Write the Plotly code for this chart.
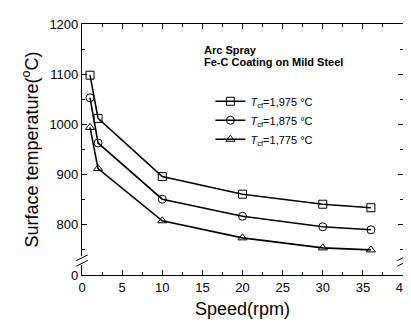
import plotly.graph_objects as go

speed = [1, 2, 10, 20, 30, 36]
temp_1975 = [1098, 1012, 896, 861, 841, 834]
temp_1875 = [1053, 963, 851, 817, 796, 790]
temp_1775 = [994, 912, 808, 774, 754, 750]
series_names = ["<i>T</i><sub>cf</sub>=1,975 °C", "<i>T</i><sub>cf</sub>=1,875 °C", "<i>T</i><sub>cf</sub>=1,775 °C"]
y_tickvals = [700, 800, 900, 1000, 1100, 1200]
y_ticktext = ["0", "800", "900", "1000", "1100", "1200"]

FONT = "Arial, Liberation Sans, sans-serif"
symbols = ["square-open", "circle-open", "triangle-up-open"]

fig = go.Figure()
for vals, name, sym in zip([temp_1975, temp_1875, temp_1775], series_names, symbols):
    fig.add_trace(go.Scatter(
        x=speed, y=vals, name=name, mode="lines+markers",
        line=dict(color="black", width=1.6),
        marker=dict(symbol=sym, size=8, color="black", line=dict(width=1, color="black")),
        cliponaxis=False,
    ))

axis_common = dict(
    showline=True, linecolor="black", linewidth=1.2, mirror="ticks",
    ticks="inside", ticklen=5, tickcolor="black", tickwidth=1,
    showgrid=False, zeroline=False,
    tickfont=dict(family=FONT, size=13, color="black"),
)
fig.update_xaxes(range=[0, 40], dtick=5, tick0=0,
                 minor=dict(ticks="inside", ticklen=3, dtick=2.5, tick0=0, tickcolor="black"),
                 title=dict(text="Speed(rpm)", font=dict(family=FONT, size=18, color="black"), standoff=8),
                 **axis_common)
fig.update_yaxes(range=[700, 1200], tickvals=y_tickvals, ticktext=y_ticktext,
                 minor=dict(ticks="inside", ticklen=3, tickvals=[750, 850, 950, 1050, 1150], tickcolor="black"),
                 title=dict(text="Surface temperature(<sup>o</sup>C)", font=dict(family=FONT, size=18, color="black"), standoff=6),
                 **axis_common)

# axis break marks
for xp in [0, 1]:
    fig.add_shape(type="rect", xref="paper", yref="paper", x0=xp - 0.01, x1=xp + 0.01, y0=0.04, y1=0.075,
                  fillcolor="white", line=dict(width=0), layer="above")
    for yoff in [0.0, 0.022]:
        fig.add_shape(type="line", xref="paper", yref="paper",
                      x0=xp - 0.018, x1=xp + 0.018, y0=0.035 + yoff, y1=0.058 + yoff,
                      line=dict(color="black", width=1), layer="above")

fig.add_annotation(x=0.375, y=0.898, xref="paper", yref="paper", xanchor="left", yanchor="middle",
                   text="<b>Arc Spray</b>", showarrow=False, font=dict(family=FONT, size=11, color="black"))
fig.add_annotation(x=0.375, y=0.848, xref="paper", yref="paper", xanchor="left", yanchor="middle",
                   text="<b>Fe-C Coating on Mild Steel</b>", showarrow=False, font=dict(family=FONT, size=11, color="black"))

fig.update_layout(
    width=411, height=322,
    margin=dict(l=74, r=9, t=13, b=55),
    paper_bgcolor="white", plot_bgcolor="white",
    font=dict(family=FONT, color="black"),
    legend=dict(x=0.4, y=0.75, xanchor="left", yanchor="top", bgcolor="rgba(0,0,0,0)",
                font=dict(family=FONT, size=11, color="black"), itemwidth=30, tracegroupgap=0),
)

fig.write_html("out.html")
